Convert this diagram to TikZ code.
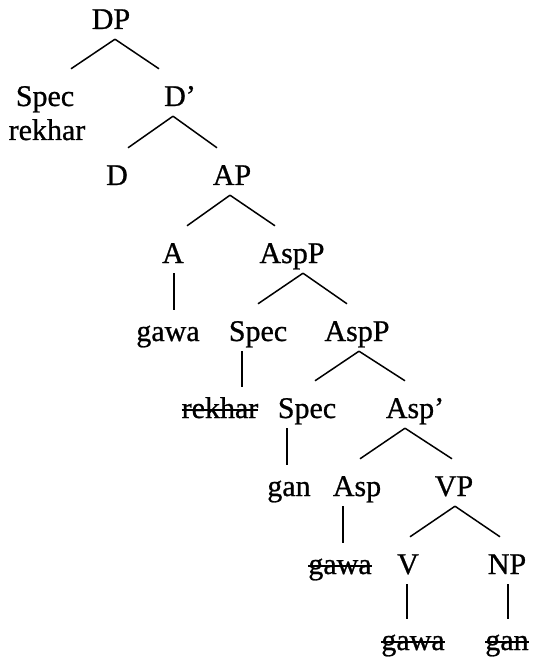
\documentclass[tikz,border=0pt]{standalone}
\usepackage{fontspec}
\setmainfont{Liberation Serif}[FakeBold=0.8]
\usepackage{tikz}
\usetikzlibrary{calc}

% crossed-out (moved) copies
\newcommand{\struck}[1]{\setbox0=\hbox{#1}\rlap{\rule[0.24em]{\wd0}{1.5pt}}\box0}

\tikzset{
  tnode/.style={anchor=base, inner sep=0pt, text height=31pt, text depth=10pt,
                font=\fontsize{30}{35}\selectfont},
  branch/.style={line width=1.5pt}
}

\begin{document}
\begin{tikzpicture}[x=1pt, y=-1pt]
  \useasboundingbox (0,0) rectangle (535,660);

  % labels, row by row
  \node[tnode] (DP)      at (111,29)  {DP};
  \node[tnode] (specA)   at (45,106)  {Spec};
  \node[tnode] (rekharA) at (47,140)  {rekhar};
  \node[tnode] (dbar)    at (180,106) {D’};
  \node[tnode] (D)       at (117,185) {D};
  \node[tnode] (AP)      at (232,185) {AP};
  \node[tnode] (A)       at (173,263) {A};
  \node[tnode] (aspPA)   at (292,263) {AspP};
  \node[tnode] (gawaA)   at (168,341) {gawa};
  \node[tnode] (specB)   at (258,341) {Spec};
  \node[tnode] (aspPB)   at (357,341) {AspP};
  \node[tnode] (rekharB) at (220,418) {\struck{rekhar}};
  \node[tnode] (specC)   at (307,418) {Spec};
  \node[tnode] (aspbar)  at (415,418) {Asp’};
  \node[tnode] (ganA)    at (289,496) {gan};
  \node[tnode] (asp)     at (357,496) {Asp};
  \node[tnode] (VP)      at (454,496) {VP};
  \node[tnode] (gawaB)   at (340,574) {\struck{gawa}};
  \node[tnode] (V)       at (408,574) {V};
  \node[tnode] (NP)      at (507,574) {NP};
  \node[tnode] (gawaC)   at (413,650) {\struck{gawa}};
  \node[tnode] (ganB)    at (507,650) {\struck{gan}};

  % branching lines
  \foreach \p/\a/\c/\e in {DP/4/specA/26, DP/4/dbar/-21,
      dbar/-7/D/11, dbar/-7/AP/-15,
      AP/-2/A/14, AP/-2/aspPA/-17,
      aspPA/11/specB/0, aspPA/11/aspPB/-10,
      aspPB/2/specC/8, aspPB/2/aspbar/-10,
      aspbar/-10/asp/3, aspbar/-10/VP/-2,
      VP/1/V/2, VP/1/NP/-7}
    \draw[branch] ([xshift=\a pt]\p.south) -- ([xshift=\e pt, yshift=6pt]\c.north);

  % non-branching lines
  \foreach \p/\a/\c in {A/1/gawaA, specB/-16/rekharB, specC/-20/ganA,
      asp/-14/gawaB, V/-1/gawaC, NP/1/ganB}
    \draw[branch] ([xshift=\a pt]\p.south) coordinate (top) -- (top |- \c.north);
\end{tikzpicture}
\end{document}
